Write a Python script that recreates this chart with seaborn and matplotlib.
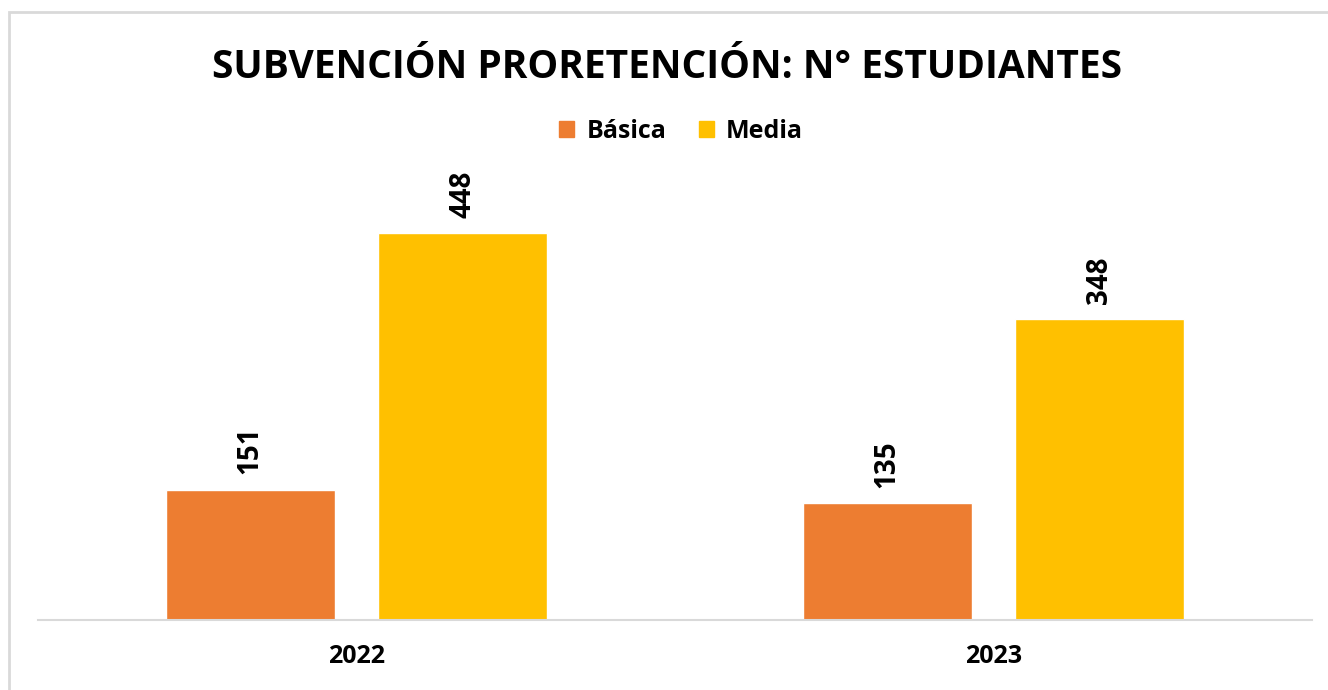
import pandas as pd
import seaborn as sns
import matplotlib.pyplot as plt
from matplotlib.patches import Rectangle

# data
years = ['2022', '2023']
basica = [151, 135]
media = [448, 348]
levels = ['Básica', 'Media']
colors = ['#ED7D31', '#FFC000']

df = pd.DataFrame({
    'Año': years * 2,
    'Nivel': [levels[0]] * len(years) + [levels[1]] * len(years),
    'Estudiantes': basica + media,
})

sns.set_style('white')
plt.rcParams['font.family'] = ['Open Sans', 'DejaVu Sans']
plt.rcParams['text.color'] = 'black'
plt.rcParams['xtick.color'] = 'black'

fig = plt.figure(figsize=(13.28, 6.9), dpi=100)
ax = fig.add_axes([38 / 1328, 70 / 690, 1274 / 1328, 432 / 690])

sns.barplot(data=df, x='Año', y='Estudiantes', hue='Nivel', palette=colors,
            width=0.667, gap=0.205, saturation=1, ax=ax)

ax.set_xlim(-0.5, 1.5)
ax.set_ylim(0, 500)
ax.set_xlabel('')
ax.set_ylabel('')
ax.set_yticks([])
for s in ['top', 'right', 'left']:
    ax.spines[s].set_visible(False)
ax.spines['bottom'].set_color('#D9D9D9')
ax.spines['bottom'].set_linewidth(1.5)
ax.tick_params(axis='x', length=0, pad=17, labelcolor='black')
for lbl in ax.get_xticklabels():
    lbl.set_fontsize(18)
    lbl.set_fontweight('bold')

for cont in ax.containers:
    ax.bar_label(cont, rotation=90, padding=11, fontsize=20, fontweight='bold',
                 color='black')

ax.get_legend().remove()
handles = [Rectangle((0, 0), 1, 1, color=c) for c in colors]
fig.legend(handles, levels, loc='center', bbox_to_anchor=(681 / 1328, 1 - 131 / 690),
           ncol=2, frameon=False, handlelength=0.6, handleheight=0.6,
           handletextpad=0.5, columnspacing=1.3,
           prop={'family': 'Open Sans', 'weight': 'bold', 'size': 18})

fig.text(667 / 1328, 1 - 67 / 690, 'SUBVENCIÓN PRORETENCIÓN: N° ESTUDIANTES',
         ha='center', va='center', fontsize=28, fontweight='bold', color='black')

# chart border (only top and left edges visible in the reference)
fig.patches.append(Rectangle((9 / 1328, -0.1), 1.2, 1.1 - 12 / 690,
                             transform=fig.transFigure, fill=False,
                             edgecolor='#D9D9D9', linewidth=2))

plt.savefig('out.png', dpi=100)
